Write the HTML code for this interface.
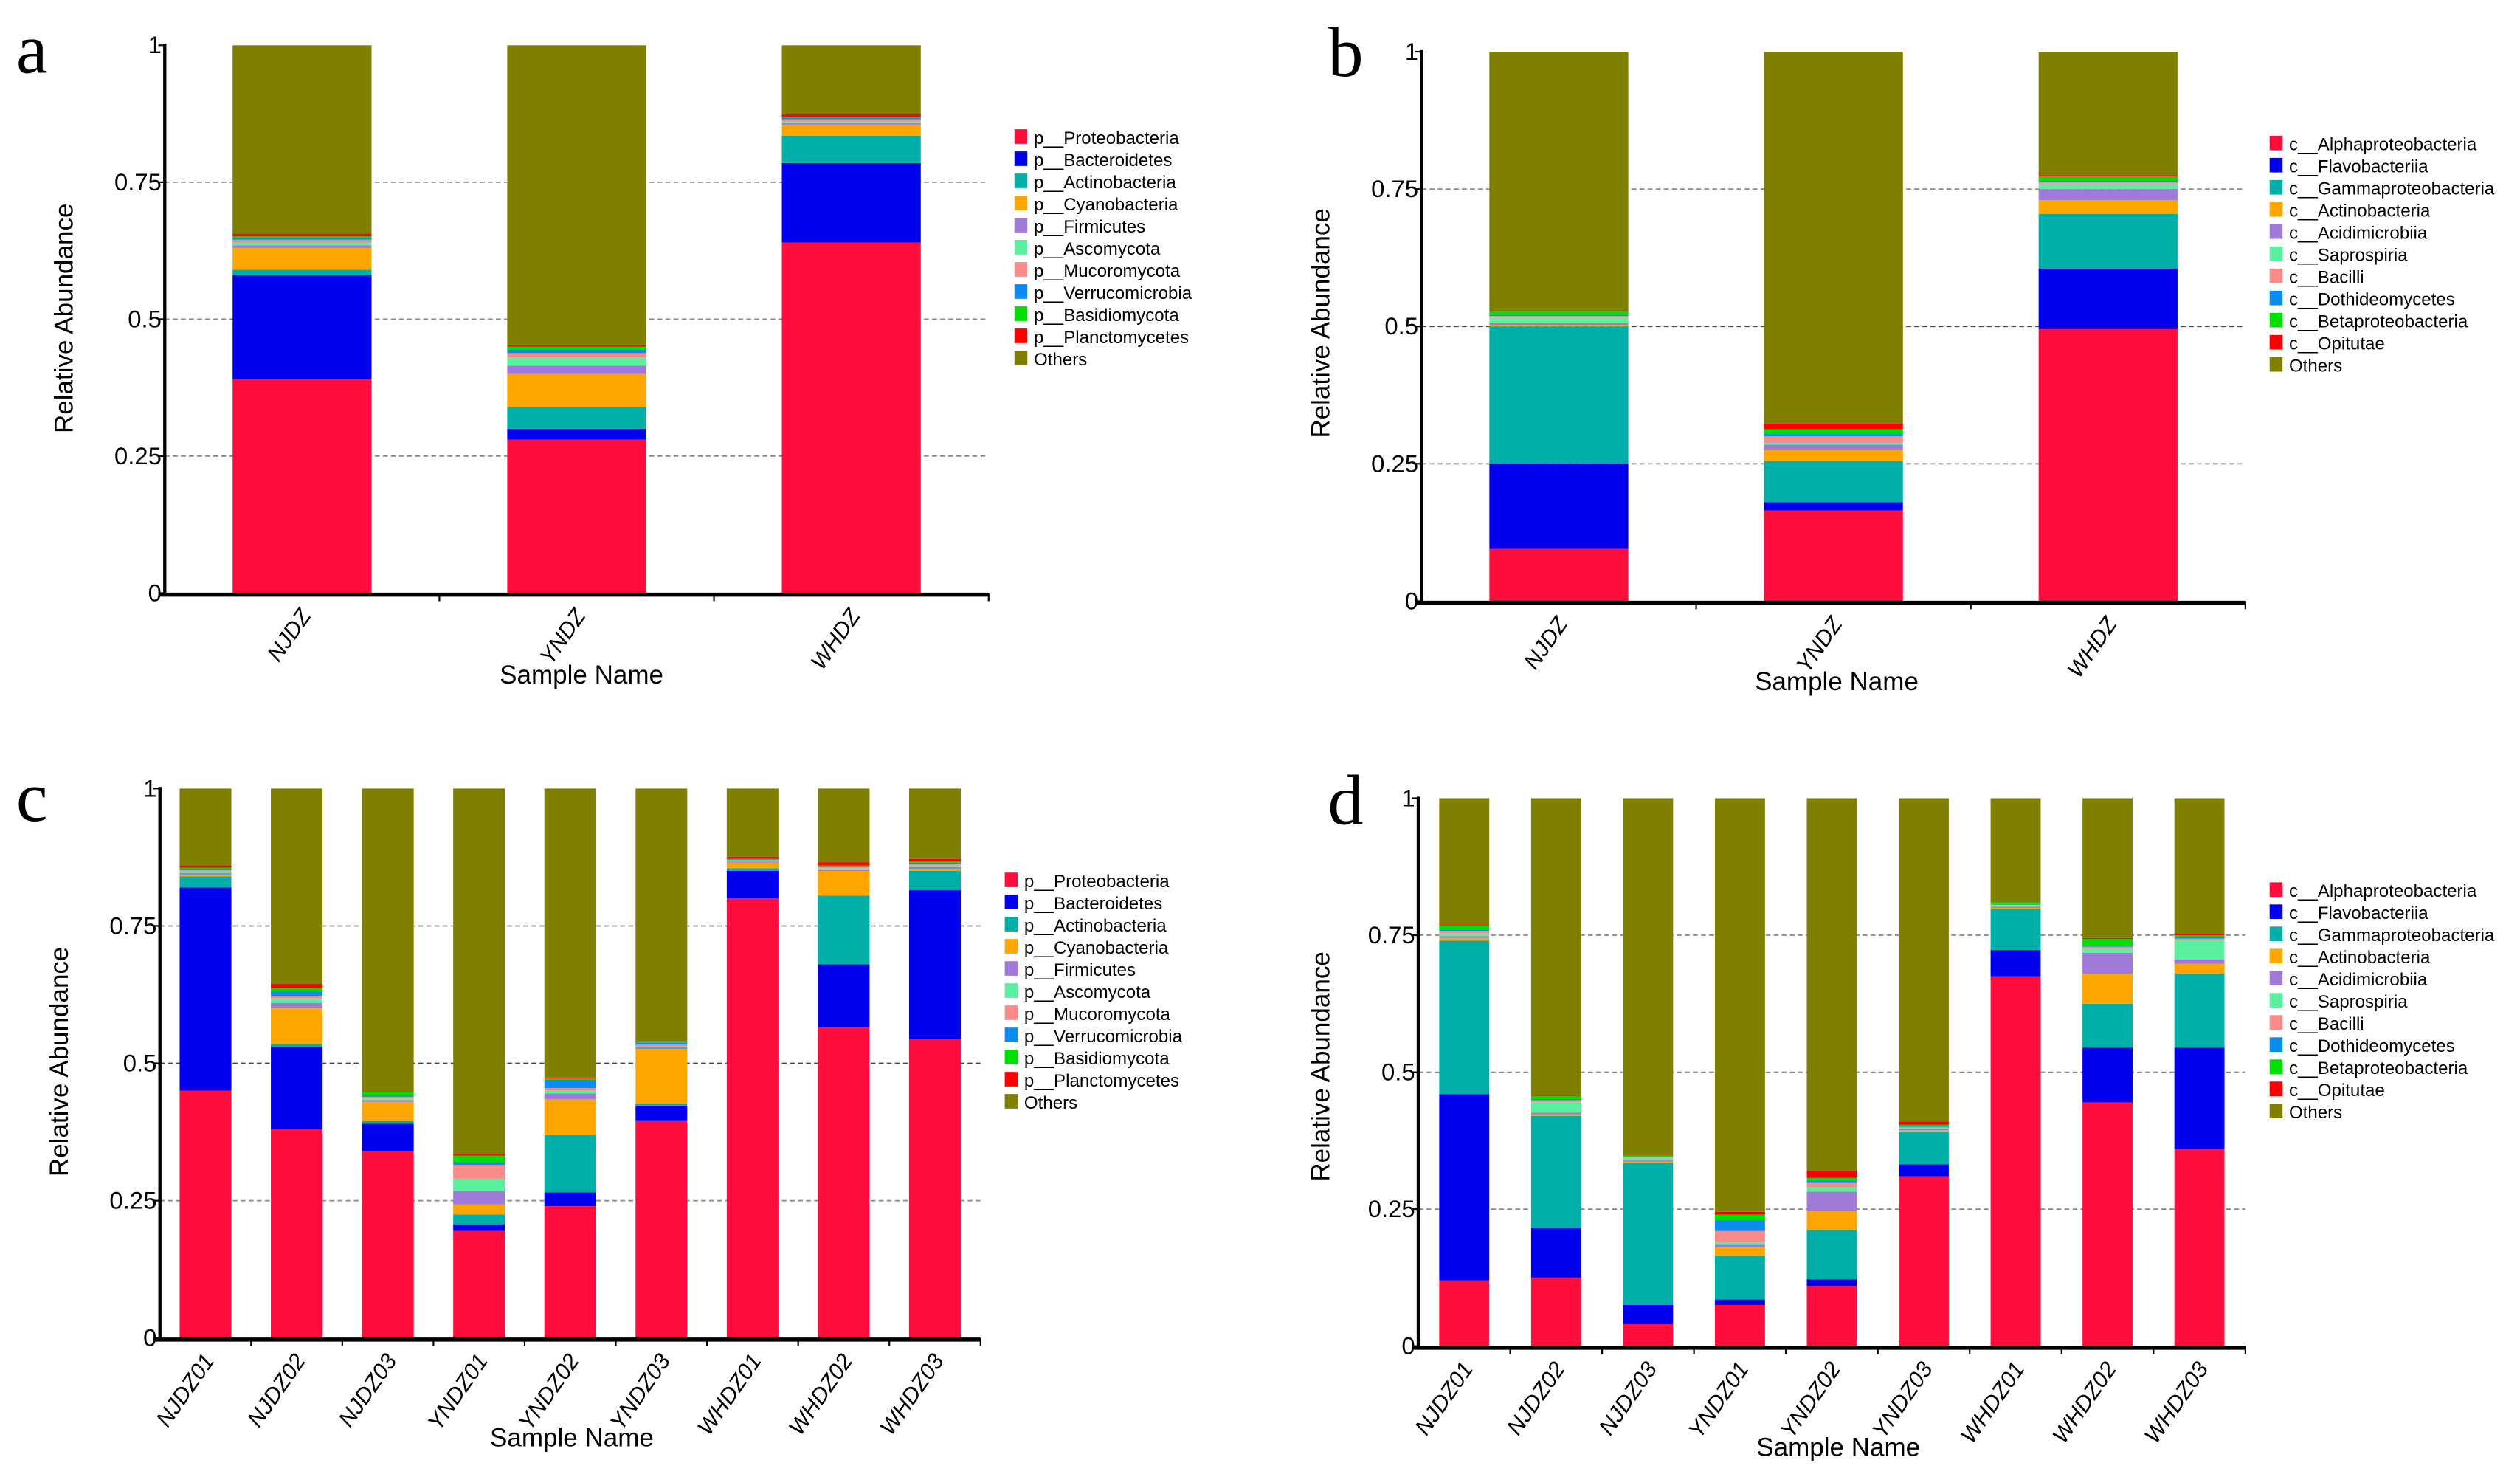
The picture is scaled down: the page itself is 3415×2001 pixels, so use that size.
<!DOCTYPE html>
<html><head><meta charset="utf-8"><style>
html,body{margin:0;padding:0;background:#fff;}
svg{display:block;}
text{font-family:"Liberation Sans",sans-serif;}
</style></head>
<body>
<svg id="fig" xmlns="http://www.w3.org/2000/svg" width="3415" height="2001" viewBox="0 0 1560 914" preserveAspectRatio="none"></svg>
<script>
const phylumNames = ["p__Proteobacteria","p__Bacteroidetes","p__Actinobacteria","p__Cyanobacteria","p__Firmicutes","p__Ascomycota","p__Mucoromycota","p__Verrucomicrobia","p__Basidiomycota","p__Planctomycetes","Others"];
const classNames = ["c__Alphaproteobacteria","c__Flavobacteriia","c__Gammaproteobacteria","c__Actinobacteria","c__Acidimicrobiia","c__Saprospiria","c__Bacilli","c__Dothideomycetes","c__Betaproteobacteria","c__Opitutae","Others"];
const taxonColors = ["#FF0D3D","#0000EE","#00B0A8","#FFA500","#A07AD8","#5AF0A0","#F88A8A","#0A8CF0","#00E000","#FF0000","#808000"];
const groupSamples = ["NJDZ","YNDZ","WHDZ"];
const replicateSamples = ["NJDZ01","NJDZ02","NJDZ03","YNDZ01","YNDZ02","YNDZ03","WHDZ01","WHDZ02","WHDZ03"];
const yTicks = [0,0.25,0.5,0.75,1];
const yTickLabels = ["0","0.25","0.5","0.75","1"];
// Others = 1 - sum
const phylumGroupValues = [
 [0.39,0.19,0.01,0.04,0.005,0.005,0.005,0.003,0.003,0.005],
 [0.28,0.02,0.04,0.06,0.015,0.015,0.008,0.007,0.005,0.002],
 [0.64,0.145,0.05,0.02,0.003,0.003,0.004,0.002,0.002,0.005]
];
const classGroupValues = [
 [0.095,0.155,0.25,0.003,0.003,0.01,0.003,0.002,0.006,0.001],
 [0.165,0.015,0.075,0.02,0.01,0.003,0.012,0.005,0.008,0.01],
 [0.495,0.11,0.1,0.025,0.02,0.01,0.003,0.002,0.008,0.002]
];
const phylumReplicateValues = [
 [0.45,0.37,0.02,0.003,0.003,0.003,0.003,0.002,0.002,0.004],
 [0.38,0.15,0.005,0.065,0.01,0.008,0.005,0.008,0.006,0.008],
 [0.34,0.05,0.005,0.035,0.003,0.003,0.003,0.002,0.006,0.001],
 [0.195,0.012,0.018,0.018,0.025,0.022,0.025,0.005,0.012,0.003],
 [0.24,0.025,0.105,0.065,0.01,0.005,0.005,0.015,0.002,0.002],
 [0.395,0.028,0.003,0.1,0.003,0.002,0.003,0.004,0.001,0.001],
 [0.80,0.05,0.005,0.01,0.002,0.001,0.002,0.001,0.001,0.004],
 [0.565,0.115,0.125,0.045,0.003,0.002,0.003,0.001,0.001,0.006],
 [0.545,0.27,0.035,0.004,0.003,0.003,0.003,0.002,0.002,0.005]
];
const classReplicateValues = [
 [0.12,0.34,0.28,0.005,0.003,0.005,0.005,0.002,0.008,0.002],
 [0.125,0.09,0.205,0.003,0.003,0.02,0.003,0.002,0.006,0.001],
 [0.04,0.035,0.26,0.002,0.002,0.005,0.001,0.001,0.002,0.001],
 [0.075,0.01,0.08,0.015,0.005,0.005,0.02,0.02,0.01,0.005],
 [0.11,0.012,0.09,0.035,0.035,0.008,0.008,0.004,0.005,0.013],
 [0.31,0.022,0.06,0.002,0.002,0.002,0.002,0.001,0.003,0.006],
 [0.675,0.048,0.075,0.002,0.002,0.003,0.001,0.001,0.003,0.0],
 [0.445,0.1,0.08,0.055,0.038,0.008,0.003,0.002,0.012,0.002],
 [0.36,0.185,0.135,0.018,0.008,0.035,0.003,0.002,0.004,0.002]
];

const NS="http://www.w3.org/2000/svg";
const svg=document.getElementById('fig');
function mk(tag,attrs,parent){const e=document.createElementNS(NS,tag);for(const k in attrs)e.setAttribute(k,attrs[k]);(parent||svg).appendChild(e);return e;}

function panel(cfg){
  const g=mk('g',{});
  
  
  const y=v=>cfg.y0-(cfg.y0-cfg.y1)*v;
  const n=cfg.samples.length;
  const step=(cfg.xEnd-cfg.ax)/n;
  const cx=i=>cfg.ax+step*(i+0.5);
  // gridlines
  [0.25,0.5,0.75].forEach(t=>{
    const l=mk('line',{x1:cfg.ax,x2:cfg.xEnd,y1:y(t),y2:y(t),stroke:t===0.5&&cfg.darkMid?'#444':'#888','stroke-width':0.8,'stroke-dasharray':'3,2'},g);
    
    
  });
  // bars
  cfg.values.forEach((row,i)=>{
    let acc=0;
    const full=row.concat([Math.max(0,1-row.reduce((a,b)=>a+b,0))]);
    full.forEach((v,k)=>{
      const r=mk('rect',{x:cx(i)-cfg.bw/2,y:y(acc+v),width:cfg.bw,height:Math.max(0,y(acc)-y(acc+v)),fill:taxonColors[k]},g);
      
      
      acc+=v;
    });
  });
  // axes
  const ya=mk('line',{x1:cfg.ax,x2:cfg.ax,y1:y(1)-1,y2:cfg.y0+2,stroke:'#000','stroke-width':2},g);
  
  
  const xa=mk('line',{x1:cfg.ax-3,x2:cfg.xEnd,y1:cfg.y0+1,y2:cfg.y0+1,stroke:'#000','stroke-width':2.5},g);
  
  
  for(let i=1;i<=n;i++){mk('line',{x1:cfg.ax+step*i,x2:cfg.ax+step*i,y1:cfg.y0,y2:cfg.y0+5,stroke:'#000','stroke-width':1},g);}
  yTicks.forEach((t,k)=>{
    mk('line',{x1:cfg.ax-4,x2:cfg.ax,y1:y(t),y2:y(t),stroke:'#000','stroke-width':1},g);
    const tx=mk('text',{x:cfg.ax-2,y:y(t)+5,'font-size':15,'text-anchor':'end',fill:'#000'},g);
    tx.textContent=yTickLabels[k];
    
    
  });
  cfg.samples.forEach((s,i)=>{
    const px=cx(i)+6, py=cfg.y0+14;
    const tx=mk('text',{x:px,y:py,'font-size':14,'text-anchor':'end','font-style':'italic',transform:`rotate(-55 ${px} ${py})`},g);
    tx.textContent=s;
    
    
  });
  const xt=mk('text',{x:cfg.xTitle[0],y:cfg.xTitle[1],'font-size':16,'text-anchor':'middle'},g);
  xt.textContent='Sample Name';
  
  
  const yt=mk('text',{x:cfg.yTitle[0],y:cfg.yTitle[1],'font-size':16,'text-anchor':'middle',transform:`rotate(-90 ${cfg.yTitle[0]} ${cfg.yTitle[1]})`},g);
  yt.textContent='Relative Abundance';
  
  
  const lt=mk('text',{x:cfg.letterPos[0],y:cfg.letterPos[1],'font-size':44,'font-family':'Liberation Serif, serif'},g);
  lt.setAttribute('style','font-family:"Liberation Serif",serif');
  lt.textContent=cfg.letter;
  
  
  cfg.names.forEach((nm,k)=>{
    const ly=cfg.leg[1]+k*13.7;
    const sw=mk('rect',{x:cfg.leg[0],y:ly-5,width:8,height:9,fill:taxonColors[k]},g);
    
    
    const tx=mk('text',{x:cfg.leg[0]+12,y:ly+4,'font-size':11},g);
    tx.textContent=nm;
    
    
  });
}
panel({letter:'a',ax:102,y0:367,y1:28,xEnd:612,bw:86,samples:groupSamples,values:phylumGroupValues,names:phylumNames,leg:[628,85],xTitle:[360,423],yTitle:[45,197],letterPos:[10,45],darkMid:false});
panel({letter:'b',ax:880,y0:372,y1:32,xEnd:1390,bw:86,samples:groupSamples,values:classGroupValues,names:classNames,leg:[1405,89],xTitle:[1137,427],yTitle:[823,200],letterPos:[822,47],darkMid:true});
panel({letter:'c',ax:99,y0:828,y1:488,xEnd:607,bw:32,samples:replicateSamples,values:phylumReplicateValues,names:phylumNames,leg:[622,545],xTitle:[354,895],yTitle:[42,657],letterPos:[10,508],darkMid:true});
panel({letter:'d',ax:878,y0:833,y1:494,xEnd:1390,bw:31,samples:replicateSamples,values:classReplicateValues,names:classNames,leg:[1405,551],xTitle:[1138,901],yTitle:[823,660],letterPos:[822,510],darkMid:false});
</script>
</body></html>
